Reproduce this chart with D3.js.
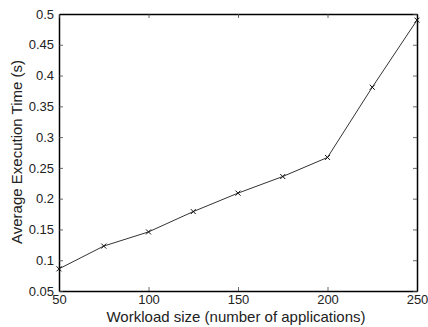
<!DOCTYPE html>
<html>
<head>
<meta charset="utf-8">
<script src="https://cdn.jsdelivr.net/npm/d3@7"></script>
<style>
  body { margin: 0; background: #fff; }
  text { font-family: "Liberation Sans", Arial, sans-serif; fill: #222; }
</style>
</head>
<body>
<script>
var workload = [50, 75, 100, 125, 150, 175, 200, 225, 250];
var execTime = [0.086, 0.123, 0.146, 0.179, 0.209, 0.236, 0.267, 0.381, 0.490];
var xTicks = [50, 100, 150, 200, 250];
var yTicks = [0.05, 0.1, 0.15, 0.2, 0.25, 0.3, 0.35, 0.4, 0.45, 0.5];

var svgWidth = 428, svgHeight = 327;
var margin = {top: 14, right: 11, bottom: 36, left: 59};
var width = svgWidth - margin.left - margin.right;
var height = svgHeight - margin.top - margin.bottom;

var svg = d3.select("body").append("svg")
  .attr("width", svgWidth)
  .attr("height", svgHeight);

var chartGroup = svg.append("g")
  .attr("transform", `translate(${margin.left}, ${margin.top})`);

var x = d3.scaleLinear().domain([50, 250]).range([0, width]);
var y = d3.scaleLinear().domain([0.05, 0.5]).range([height, 0]);

// axes with inward ticks, box on all four sides
var fmt = d3.format("");
var bottomAxis = d3.axisBottom(x).tickValues(xTicks).tickSizeInner(-4).tickSizeOuter(0).tickPadding(4).tickFormat(fmt);
var leftAxis = d3.axisLeft(y).tickValues(yTicks).tickSizeInner(-4).tickSizeOuter(0).tickPadding(5).tickFormat(fmt);
var topAxis = d3.axisTop(x).tickValues(xTicks).tickSizeInner(-4).tickSizeOuter(0).tickFormat("");
var rightAxis = d3.axisRight(y).tickValues(yTicks).tickSizeInner(-4).tickSizeOuter(0).tickFormat("");

var gb = chartGroup.append("g").attr("transform", `translate(0, ${height})`).call(bottomAxis);
var gl = chartGroup.append("g").call(leftAxis);
var gt = chartGroup.append("g").call(topAxis);
var gr = chartGroup.append("g").attr("transform", `translate(${width}, 0)`).call(rightAxis);

[gb, gl, gt, gr].forEach(function(g) {
  g.select(".domain").attr("stroke", "#000").attr("stroke-width", 1.5);
  g.selectAll(".tick line").attr("stroke", "#444").attr("stroke-width", 0.8);
  g.selectAll(".tick text").style("font-size", "13px").attr("fill", "#222");
});

var line = d3.line()
  .x(function(d, i) { return x(workload[i]); })
  .y(function(d) { return y(d); });

chartGroup.append("path")
  .datum(execTime)
  .attr("fill", "none")
  .attr("stroke", "#333")
  .attr("stroke-width", 1)
  .attr("d", line);

// x markers
var s = 2.5;
chartGroup.selectAll(".marker")
  .data(execTime)
  .enter().append("path")
  .attr("class", "marker")
  .attr("transform", function(d, i) { return `translate(${x(workload[i])}, ${y(d)})`; })
  .attr("d", `M${-s},${-s}L${s},${s}M${-s},${s}L${s},${-s}`)
  .attr("stroke", "#111")
  .attr("stroke-width", 1)
  .attr("fill", "none");

svg.append("text")
  .attr("x", 236)
  .attr("y", 322)
  .attr("text-anchor", "middle")
  .style("font-size", "15px")
  .text("Workload size (number of applications)");

svg.append("text")
  .attr("transform", `translate(22, 152) rotate(-90)`)
  .attr("text-anchor", "middle")
  .style("font-size", "15px")
  .text("Average Execution Time (s)");
</script>
</body>
</html>
